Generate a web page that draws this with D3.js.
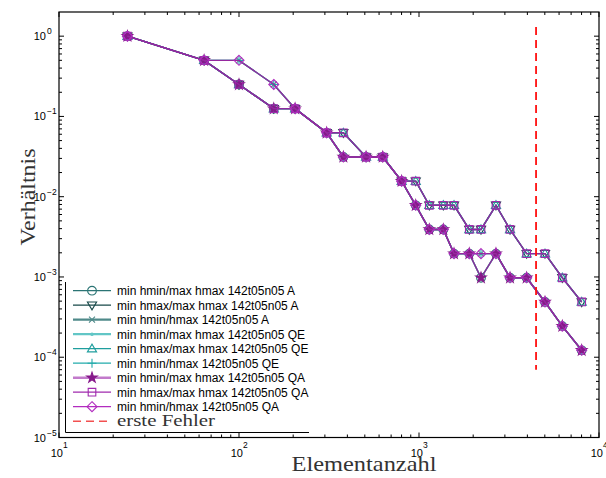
<!DOCTYPE html>
<html lang="de">
<head>
<meta charset="UTF-8">
<script src="https://cdn.jsdelivr.net/npm/d3@7"></script>
<style>
  body { margin: 0; background: #fff; }
  .tick-label { font-family: "Liberation Sans", Arial, sans-serif; font-size: 11px; fill: #000; }
  .legend-text { font-family: "Liberation Sans", Arial, sans-serif; font-size: 12px; fill: #000; }
  .serif { font-family: "Liberation Serif", "Times New Roman", serif; fill: #333; }
</style>
</head>
<body>
<svg id="chart" width="606" height="478"></svg>
<script>
// element counts (x)
var elems = [24, 64, 100, 156, 205, 307, 380, 508, 629, 801, 959, 1141, 1365, 1565, 1903, 2210, 2677, 3204, 3963, 5012, 6255, 8014];

// ratios (the same for A, QE and QA meshes)
var hminMaxHmax = [1, 0.5, 0.25, 0.125, 0.125, 0.0625, 0.03125, 0.03125, 0.03125, 0.015625, 0.0078125,
    0.00390625, 0.00390625, 0.001953, 0.001953, 0.000977, 0.001953, 0.000977, 0.000977, 0.000488, 0.000244, 0.000122];
var hmaxMaxHmax = [1, 0.5, 0.25, 0.125, 0.125, 0.0625, 0.0625, 0.03125, 0.03125, 0.015625, 0.015625,
    0.0078125, 0.0078125, 0.0078125, 0.00390625, 0.00390625, 0.0078125, 0.00390625, 0.001953, 0.001953, 0.000977, 0.000488];
var hminHmax = [1, 0.5, 0.5, 0.25, 0.125, 0.0625, 0.03125, 0.03125, 0.03125, 0.015625, 0.0078125,
    0.00390625, 0.00390625, 0.001953, 0.001953, 0.001953, 0.001953, 0.000977, 0.000977, 0.000488, 0.000244, 0.000122];

var seriesNames = [
    "min hmin/max hmax 142t05n05 A",
    "min hmax/max hmax 142t05n05 A",
    "min hmin/hmax 142t05n05 A",
    "min hmin/max hmax 142t05n05 QE",
    "min hmax/max hmax 142t05n05 QE",
    "min hmin/hmax 142t05n05 QE",
    "min hmin/max hmax 142t05n05 QA",
    "min hmax/max hmax 142t05n05 QA",
    "min hmin/hmax 142t05n05 QA"
];
var seriesValues = [hminMaxHmax, hmaxMaxHmax, hminHmax, hminMaxHmax, hmaxMaxHmax, hminHmax, hminMaxHmax, hmaxMaxHmax, hminHmax];
var firstError = 4470;          // erste Fehler
var firstErrorRange = [1.3, 7e-5];

var styles = [
    {c: "#2b7474", m: "o", w: 1.3},
    {c: "#174848", m: "v", w: 1.3},
    {c: "#4f8a8a", m: "x", w: 2.2},
    {c: "#62c6c6", m: ".", w: 2.2},
    {c: "#1f9e9e", m: "^", w: 1.3},
    {c: "#22abab", m: "+", w: 1.3},
    {c: "#c27acb", m: "p", w: 2.4, mc: "#86198a", fill: true, pc: "#8a2a98"},
    {c: "#a02aae", m: "s", w: 1.3, pc: "#8e2aa0"},
    {c: "#b22cbf", m: "d", w: 1.3, pc: "#96289f"}
];

(function() {
var svg = d3.select("#chart");
var pLeft = 59, pRight = 599, pTop = 12, pBottom = 437.5;

var x = d3.scaleLog().domain([10, 10000]).range([pLeft, pRight]);
var y = d3.scaleLog().domain([1e-5, 2]).range([pBottom, pTop]);

function markerPath(m) {
    switch (m) {
        case "o": return d3.symbol(d3.symbolCircle, 60)();
        case "v": return "M-4.6,-3.2L4.6,-3.2L0,4.6Z";
        case "^": return "M-4.6,3.2L4.6,3.2L0,-4.6Z";
        case "x": return "M-3,-3L3,3M-3,3L3,-3";
        case ".": return d3.symbol(d3.symbolCircle, 5)();
        case "+": return "M-4.5,0L4.5,0M0,-4.5L0,4.5";
        case "p": return d3.symbol(d3.symbolStar, 34)();
        case "s": return "M-3.8,-3.8L3.8,-3.8L3.8,3.8L-3.8,3.8Z";
        case "d": return "M0,-5L5,0L0,5L-5,0Z";
    }
}

function drawMarker(g, st, cx, cy) {
    var col = st.mc || st.c;
    g.append("path")
        .attr("d", markerPath(st.m))
        .attr("transform", "translate(" + cx + "," + cy + ")")
        .attr("fill", st.fill || st.m == "." ? col : "none")
        .attr("stroke", col)
        .attr("stroke-width", 1.1);
}

// data
var line = d3.line()
    .x(function(d) { return x(d[0]); })
    .y(function(d) { return y(d[1]); });

var plot = svg.append("g");
seriesValues.forEach(function(vals, i) {
    var st = styles[i];
    var pts = elems.map(function(e, j) { return [e, vals[j]]; });
    plot.append("path")
        .attr("d", line(pts))
        .attr("fill", "none")
        .attr("stroke", st.pc || st.c)
        .attr("stroke-width", 1.4);
    pts.forEach(function(p) {
        drawMarker(plot, st, x(p[0]), y(p[1]));
    });
});

// erste Fehler
svg.append("line")
    .attr("x1", x(firstError)).attr("x2", x(firstError))
    .attr("y1", y(firstErrorRange[0])).attr("y2", y(firstErrorRange[1]))
    .attr("stroke", "#ff1010")
    .attr("stroke-width", 1.8)
    .attr("stroke-dasharray", "8,5");

// frame and ticks
var frame = svg.append("g");
frame.append("rect")
    .attr("x", pLeft).attr("y", pTop)
    .attr("width", pRight - pLeft).attr("height", pBottom - pTop)
    .attr("fill", "none").attr("stroke", "#000").attr("stroke-width", 1.2);

var xMajor = [10, 100, 1000, 10000];
var xMinor = [];
[10, 100, 1000].forEach(function(d) {
    for (var k = 2; k <= 9; k++) xMinor.push(d * k);
});
var yMajor = [1e-5, 1e-4, 1e-3, 1e-2, 1e-1, 1];
var yMinor = [];
[1e-5, 1e-4, 1e-3, 1e-2, 1e-1].forEach(function(d) {
    for (var k = 2; k <= 9; k++) yMinor.push(d * k);
});

function xticks(vals, len) {
    vals.forEach(function(v) {
        var px = x(v);
        frame.append("line").attr("x1", px).attr("x2", px).attr("y1", pBottom).attr("y2", pBottom - len);
        frame.append("line").attr("x1", px).attr("x2", px).attr("y1", pTop).attr("y2", pTop + len);
    });
}
function yticks(vals, len) {
    vals.forEach(function(v) {
        var py = y(v);
        frame.append("line").attr("y1", py).attr("y2", py).attr("x1", pLeft).attr("x2", pLeft + len);
        frame.append("line").attr("y1", py).attr("y2", py).attr("x1", pRight).attr("x2", pRight - len);
    });
}
xticks(xMajor, 5); xticks(xMinor, 3);
yticks(yMajor, 5); yticks(yMinor, 3);
frame.selectAll("line").attr("stroke", "#000").attr("stroke-width", 1);

// tick labels
var expo = ["\u22125", "\u22124", "\u22123", "\u22122", "\u22121", "0"];
yMajor.forEach(function(v, i) {
    svg.append("text").attr("class", "tick-label")
        .attr("x", 46).attr("y", y(v) + 4).attr("text-anchor", "end").text("10");
    svg.append("text").attr("class", "tick-label")
        .attr("x", 47).attr("y", y(v) - 2).style("font-size", "8.5px").text(expo[i]);
});
var xExpo = ["1", "2", "3", "4"];
xMajor.forEach(function(v, i) {
    svg.append("text").attr("class", "tick-label")
        .attr("x", x(v) + 4).attr("y", 457).attr("text-anchor", "end").text("10");
    svg.append("text").attr("class", "tick-label")
        .attr("x", x(v) + 4).attr("y", 448).style("font-size", "8.5px").text(xExpo[i]);
});

// axis titles
svg.append("text").attr("class", "serif")
    .attr("x", 364).attr("y", 471).attr("text-anchor", "middle")
    .attr("textLength", 145).attr("lengthAdjust", "spacingAndGlyphs")
    .style("font-size", "21px").text("Elementanzahl");
svg.append("text").attr("class", "serif")
    .attr("transform", "translate(35,197) rotate(-90)").attr("text-anchor", "middle")
    .attr("textLength", 97).attr("lengthAdjust", "spacingAndGlyphs")
    .style("font-size", "21px").text("Verh\u00e4ltnis");

// legend
var lg = svg.append("g");
var lgLeft = 65.5, lgTop = 282, lgBottom = 432.5, lgRight = 309;
lg.append("rect").attr("x", lgLeft).attr("y", lgTop).attr("width", lgRight - lgLeft)
    .attr("height", lgBottom - lgTop).attr("fill", "#fff");
lg.append("line").attr("x1", lgLeft).attr("x2", lgLeft).attr("y1", lgTop).attr("y2", lgBottom)
    .attr("stroke", "#000").attr("stroke-width", 1);
lg.append("line").attr("x1", lgLeft).attr("x2", lgRight).attr("y1", lgBottom).attr("y2", lgBottom)
    .attr("stroke", "#000").attr("stroke-width", 1);

seriesNames.forEach(function(name, i) {
    var st = styles[i];
    var ry = 290.7 + i * 14.5;
    lg.append("line").attr("x1", 73).attr("x2", 111).attr("y1", ry).attr("y2", ry)
        .attr("stroke", st.c).attr("stroke-width", st.w);
    drawMarker(lg, st, 92, ry);
    lg.append("text").attr("class", "legend-text").attr("x", 117).attr("y", ry + 4.3).text(name);
});
var ry = 290.7 + 9 * 14.5;
lg.append("line").attr("x1", 73).attr("x2", 111).attr("y1", ry).attr("y2", ry)
    .attr("stroke", "#f25050").attr("stroke-width", 1.6).attr("stroke-dasharray", "8,5");
lg.append("text").attr("class", "serif").attr("x", 117).attr("y", ry + 5)
    .attr("textLength", 98).attr("lengthAdjust", "spacingAndGlyphs")
    .style("font-size", "16px").text("erste Fehler");
})();
</script>
</body>
</html>
